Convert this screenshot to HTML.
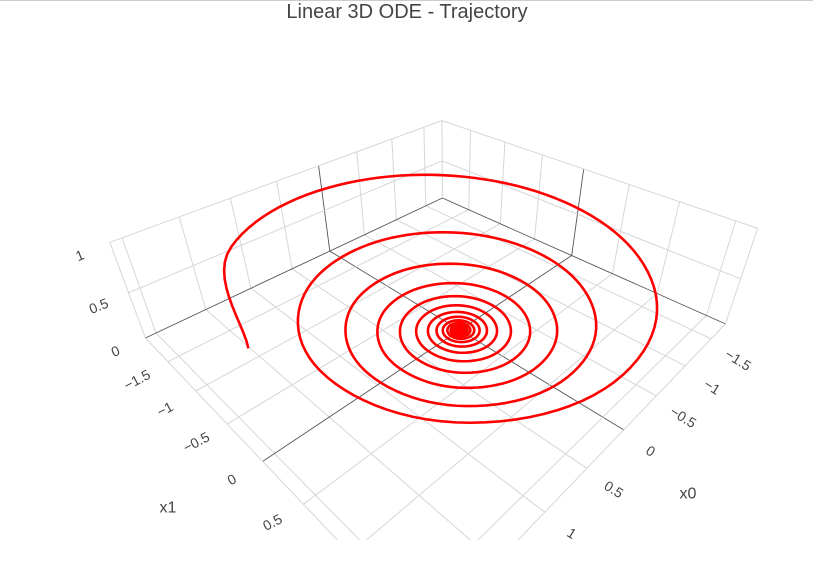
<!DOCTYPE html>
<html>
<head>
<meta charset="utf-8">
<style>
html,body{margin:0;padding:0;background:#fff;width:813px;height:587px;overflow:hidden;}
body{font-family:"Liberation Sans",Arial,sans-serif;}
svg{display:block;}
svg text{font-family:"Liberation Sans",Arial,sans-serif;fill:#444;}
</style>
</head>
<body>
<svg id="chart" width="813" height="587" viewBox="0 0 813 587" xmlns="http://www.w3.org/2000/svg">
  <line x1="0" y1="0.5" x2="813" y2="0.5" stroke="#ccc" stroke-width="1"/>
  <text x="407" y="18" text-anchor="middle" font-size="20">Linear 3D ODE - Trajectory</text>
  <defs><clipPath id="sceneClip"><rect x="0" y="30" width="813" height="510"/></clipPath></defs>
  <g id="scene" clip-path="url(#sceneClip)"></g>
  <g id="labels"></g>
</svg>
<script>
// ---- data ----
const x0Vals=[2.0000,1.3598,0,-1.2570,-1.7093,-1.1621,0,1.0744,1.4608,.9932,0,-.9182,-1.2485,-.8488,0,.7847,1.0670,.7254,0,-.6706,-.9119,-.6200,0,.5731,.7793,.5298,0,-.4898,-.6660,-.4528,0,.4186,.5692,.3870,0,-.3577,-.4864,-.3307,0,.3058,.4157,.2826,0,-.2613,-.3553,-.2415,0,.2233,.3037,.2065,0,-.1908,-.2595,-.1764,0,.1631,.2218,.1508,0,-.1394,-.1896,-.1289,0,.1191,.1620,.1102,0,-.1018,-.1385,-.0941,0,.0870,.1183,.0805,0,-.0744,-.1011,-.0687,0,.0636,.0864,.0588,0,-.0543,-.0739,-.0502,0,.0465,.0631,.0429,0,-.0397,-.0540,-.0367,0,.0339,.0461];
const x1Vals=[0,-1.3598,-1.8489,-1.2570,0,1.1621,1.5802,1.0744,0,-.9932,-1.3505,-.9182,0,.8488,1.1542,.7847,0,-.7254,-.9864,-.6706,0,.6200,.8430,.5731,0,-.5298,-.7205,-.4898,0,.4528,.6157,.4186,0,-.3870,-.5262,-.3577,0,.3307,.4497,.3058,0,-.2826,-.3843,-.2613,0,.2415,.3285,.2233,0,-.2065,-.2807,-.1908,0,.1764,.2399,.1631,0,-.1508,-.2050,-.1394,0,.1289,.1752,.1191,0,-.1102,-.1498,-.1018,0,.0941,.1280,.0870,0,-.0805,-.1094,-.0744,0,.0687,.0935,.0636,0,-.0588,-.0799,-.0543,0,.0502,.0683,.0465,0,-.0429,-.0584,-.0397,0,.0367,.0499,.0339,0];
const zVals=[1,.8889,.7901,.7023,.6243,.5550,.4933,.4385,.3898,.3465,.3080,.2738,.2434,.2163,.1923,.1709,.1519,.1351,.1200,.1067,.0949,.0843,.0750,.0666,.0592,.0527,.0468,.0416,.0370,.0329,.0292,.0260,.0231,.0205,.0182,.0162,.0144,.0128,.0114,.0101,.0090,.0080,.0071,.0063,.0056,.0050,.0044,.0039,.0035,.0031,.0028,.0025,.0022,.0019,.0017,.0015,.0014,.0012,.0011,.0010,.0009,.0008,.0007,.0006,.0005,.0005,.0004,.0004,.0003,.0003,.0003,.0002,.0002,.0002,.0002,.0001,.0001,.0001,.0001,.0001,.0001,0,0,0,0,0,0,0,0,0,0,0,0,0,0,0,0];
const x0Ticks=[-1.5,-1,-0.5,0,0.5,1,1.5,2];
const x0TickLabels=["−1.5","−1","−0.5","0","0.5","1","1.5","2"];
const x1Ticks=[-1.5,-1,-0.5,0,0.5,1,1.5];
const x1TickLabels=["−1.5","−1","−0.5","0","0.5","1","1.5"];
const zTicks=[0,0.5,1];
const zTickLabels=["0","0.5","1"];
const X0MIN=-1.8,X0MAX=2.1,X1MIN=-1.95,X1MAX=1.68,ZMIN=0,ZMAX=1;

// ---- camera fit (DLT) ----
const corr=[
 [[0,0,0],[460.5,331.4]],[[0,X1MIN,0],[332,252]],[[X0MIN,0,0],[575,256]],
 [[X0MIN,X1MIN,0],[441,197]],[[0,X1MIN,1],[322,164]],[[X0MIN,0,1],[588,167]],
 [[X0MAX,X1MIN,0],[145,337]],[[X0MAX,X1MIN,1],[110,242]],[[X0MIN,X1MAX,0],[725,322]],
 [[X0MIN,X1MAX,1],[757,230]],[[X0MIN,X1MIN,1],[436,123]],[[0,X1MAX,0],[620,430]],
 [[X0MAX,0,0],[261,463]],[[2,0,1],[248,348]]
];
function solve(A,b){const n=b.length;for(let i=0;i<n;i++){let p=i;for(let r=i+1;r<n;r++)if(Math.abs(A[r][i])>Math.abs(A[p][i]))p=r;[A[i],A[p]]=[A[p],A[i]];[b[i],b[p]]=[b[p],b[i]];for(let r=i+1;r<n;r++){const f=A[r][i]/A[i][i];for(let c=i;c<n;c++)A[r][c]-=f*A[i][c];b[r]-=f*b[i];}}const x=new Array(n).fill(0);for(let i=n-1;i>=0;i--){let s=b[i];for(let c=i+1;c<n;c++)s-=A[i][c]*x[c];x[i]=s/A[i][i];}return x;}
const rows=[],rhs=[];
corr.forEach(([[X,Y,Z],[u,v]])=>{rows.push([X,Y,Z,1,0,0,0,0,-u*X,-u*Y,-u*Z]);rhs.push(u);rows.push([0,0,0,0,X,Y,Z,1,-v*X,-v*Y,-v*Z]);rhs.push(v);});
const N=[],Bv=[];for(let i=0;i<11;i++){N.push(new Array(11).fill(0));Bv.push(0);}
rows.forEach((r,k)=>{for(let i=0;i<11;i++){Bv[i]+=r[i]*rhs[k];for(let j=0;j<11;j++)N[i][j]+=r[i]*r[j];}});
const P=solve(N,Bv);
function proj(X,Y,Z){const w=P[8]*X+P[9]*Y+P[10]*Z+1;return[(P[0]*X+P[1]*Y+P[2]*Z+P[3])/w,(P[4]*X+P[5]*Y+P[6]*Z+P[7])/w];}

const NS="http://www.w3.org/2000/svg";
const scene=document.getElementById('scene'),labels=document.getElementById('labels');
function line(a,b,dark,name){const p=proj(...a),q=proj(...b);const l=document.createElementNS(NS,'line');
l.setAttribute('x1',p[0].toFixed(1));l.setAttribute('y1',p[1].toFixed(1));l.setAttribute('x2',q[0].toFixed(1));l.setAttribute('y2',q[1].toFixed(1));
l.setAttribute('stroke',dark?'#555':'#d6d6d6');l.setAttribute('stroke-width',dark?'0.9':'1');


scene.appendChild(l);}
x0Ticks.forEach(t=>line([t,X1MIN,0],[t,X1MAX,0],t===0,'floor-grid-x0'));
x1Ticks.forEach(t=>line([X0MIN,t,0],[X0MAX,t,0],t===0,'floor-grid-x1'));
line([X0MAX,X1MIN,0],[X0MAX,X1MAX,0],false,'floor-edge');
line([X0MIN,X1MAX,0],[X0MAX,X1MAX,0],false,'floor-edge');
x0Ticks.forEach(t=>line([t,X1MIN,ZMIN],[t,X1MIN,ZMAX],t===0,'left-wall-grid-x0'));
zTicks.forEach(t=>line([X0MIN,X1MIN,t],[X0MAX,X1MIN,t],t===0,'left-wall-grid-z'));
line([X0MAX,X1MIN,ZMIN],[X0MAX,X1MIN,ZMAX],false,'left-wall-edge');
x1Ticks.forEach(t=>line([X0MIN,t,ZMIN],[X0MIN,t,ZMAX],t===0,'right-wall-grid-x1'));
zTicks.forEach(t=>line([X0MIN,X1MIN,t],[X0MIN,X1MAX,t],t===0,'right-wall-grid-z'));
line([X0MIN,X1MIN,ZMIN],[X0MIN,X1MIN,ZMAX],false,'back-corner-edge');
line([X0MIN,X1MAX,ZMIN],[X0MIN,X1MAX,ZMAX],false,'right-wall-edge');

// trajectory: smooth (circular-tuned Catmull-Rom) in data space, then project
const dpts=x0Vals.map((v,i)=>[v,x1Vals[i],zVals[i]]);
const K=5.3,SUB=12;
const out=[proj(...dpts[0])];
for(let i=0;i<dpts.length-1;i++){const p0=dpts[Math.max(0,i-1)],p1=dpts[i],p2=dpts[i+1],p3=dpts[Math.min(dpts.length-1,i+2)];
 const c1=p1.map((v,j)=>v+(p2[j]-p0[j])/K),c2=p2.map((v,j)=>v-(p3[j]-p1[j])/K);
 for(let s=1;s<=SUB;s++){const t=s/SUB,a=(1-t)*(1-t)*(1-t),b=3*(1-t)*(1-t)*t,c=3*(1-t)*t*t,e=t*t*t;
  const q=[0,1,2].map(j=>a*p1[j]+b*c1[j]+c*c2[j]+e*p2[j]);out.push(proj(...q));}}
let d='M'+out.map(p=>p[0].toFixed(2)+','+p[1].toFixed(2)).join('L');
const path=document.createElementNS(NS,'path');
path.setAttribute('d',d);path.setAttribute('fill','none');path.setAttribute('stroke','#ff0000');path.setAttribute('stroke-width','2.6');path.setAttribute('stroke-linejoin','round');


scene.appendChild(path);
const last=out[out.length-1],org=proj(0,0,0);
const core=document.createElementNS(NS,'ellipse');
core.setAttribute('cx',((last[0]+org[0])/2).toFixed(1));core.setAttribute('cy',((last[1]+org[1])/2).toFixed(1));
core.setAttribute('rx','8.5');core.setAttribute('ry','6.5');core.setAttribute('fill','#ff0000');


scene.appendChild(core);

function label(txt,x,y,rot,name,size){const t=document.createElementNS(NS,'text');
t.setAttribute('x',x.toFixed(1));t.setAttribute('y',y.toFixed(1));t.setAttribute('text-anchor','middle');t.setAttribute('dominant-baseline','central');
t.setAttribute('font-size',size||14);if(rot)t.setAttribute('transform','rotate('+rot+' '+x.toFixed(1)+' '+y.toFixed(1)+')');
t.textContent=txt;


labels.appendChild(t);}
x0Ticks.forEach((t,i)=>{const p=proj(t,X1MAX,0);if(p[1]+20<545)label(x0TickLabels[i],p[0]+27,p[1]+21,32,'x0-tick-label');});
x1Ticks.forEach((t,i)=>{const p=proj(X0MAX,t,0);if(p[1]+18<545)label(x1TickLabels[i],p[0]-31,p[1]+18,-28,'x1-tick-label');});
zTicks.forEach((t,i)=>{const p=proj(X0MAX,X1MIN,t);label(zTickLabels[i],p[0]-30,p[1]+13,-22,'z-tick-label');});
label('x0',688,494,0,'x0-axis-title',16);
label('x1',168,508,0,'x1-axis-title',16);
</script>
</body>
</html>
